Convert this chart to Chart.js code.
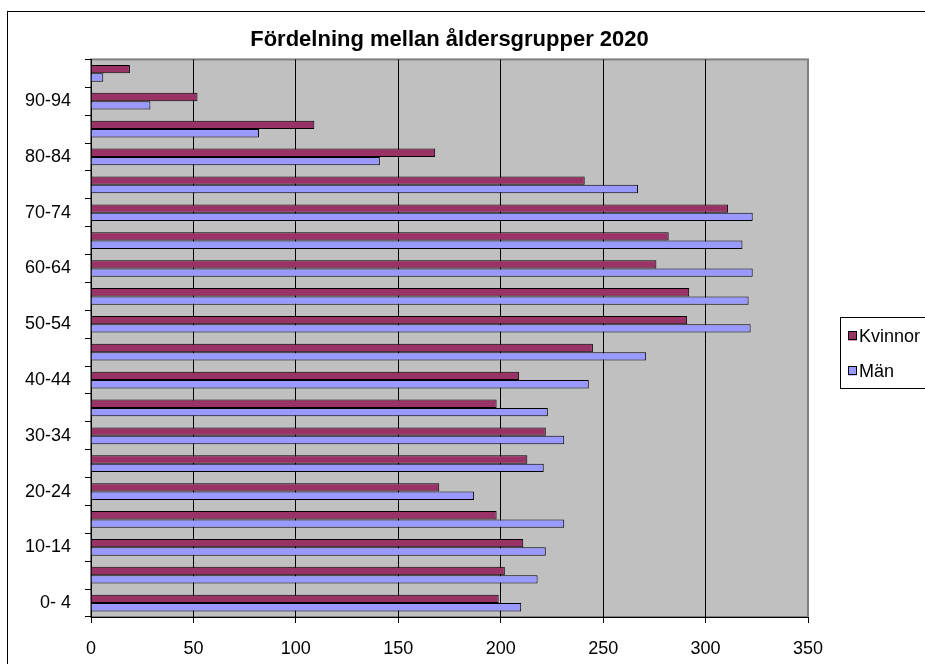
<!DOCTYPE html>
<html>
<head>
<meta charset="utf-8">
<script src="https://cdn.jsdelivr.net/npm/chart.js@4/dist/chart.umd.min.js"></script>
<style>
  html, body { margin: 0; padding: 0; background: #fff; }
  #grafica { display: block; }
</style>
</head>
<body>
<canvas id="grafica" width="925" height="664"></canvas>
<script>
const grupos = ["0- 4", "5- 9", "10-14", "15-19", "20-24", "25-29", "30-34", "35-39", "40-44", "45-49",
  "50-54", "55-59", "60-64", "65-69", "70-74", "75-79", "80-84", "85-89", "90-94", "95-"];
const kvinnor = [199, 202, 211, 198, 170, 213, 222, 198, 209, 245, 291, 292, 276, 282, 311, 241, 168, 109, 52, 19];
const man = [210, 218, 222, 231, 187, 221, 231, 223, 243, 271, 322, 321, 323, 318, 323, 267, 141, 82, 29, 6];
const ticksX = [0, 50, 100, 150, 200, 250, 300, 350];

const fuente = "'Liberation Sans', Arial, sans-serif";
const colorKvinnor = "#993366";
const colorMan = "#9999FF";

// fondo gris del area de trazado y marco exterior
const fondo = {
  id: "fondo",
  beforeDraw(chart) {
    const { ctx, chartArea: a } = chart;
    ctx.save();
    ctx.fillStyle = "#fff";
    ctx.fillRect(0, 0, chart.width, chart.height);
    ctx.strokeStyle = "#000";
    ctx.lineWidth = 1;
    ctx.strokeRect(7.5, 11.5, 960, 700);
    ctx.fillStyle = "#C0C0C0";
    ctx.fillRect(a.left, a.top, a.right - a.left, a.bottom - a.top);
    ctx.strokeStyle = "#808080";
    ctx.lineWidth = 2;
    ctx.strokeRect(a.left, a.top, a.right - a.left, a.bottom - a.top);
    ctx.restore();
  },
};

const leyenda = {
  id: "leyenda",
  afterDraw(chart) {
    const ctx = chart.ctx;
    const items = [
      { texto: "Kvinnor", color: colorKvinnor, y: 336 },
      { texto: "Män", color: colorMan, y: 371 },
    ];
    ctx.save();
    ctx.strokeStyle = "#000";
    ctx.lineWidth = 1;
    ctx.strokeRect(840.5, 317.5, 120, 71);
    ctx.font = "18px " + fuente;
    ctx.textBaseline = "middle";
    items.forEach((it) => {
      ctx.fillStyle = it.color;
      ctx.fillRect(848, it.y - 4.5, 9, 9);
      ctx.strokeRect(848.5, it.y - 4.5, 8, 8);
      ctx.fillStyle = "#000";
      ctx.fillText(it.texto, 859, it.y + 1);
    });
    ctx.restore();
  },
};

new Chart(document.getElementById("grafica"), {
  type: "bar",
  data: {
    labels: grupos,
    datasets: [
      {
        label: "Kvinnor",
        data: kvinnor,
        backgroundColor: colorKvinnor,
        borderColor: "#000",
        borderWidth: 1,
        categoryPercentage: 0.6,
        barPercentage: 1,
      },
      {
        label: "Män",
        data: man,
        backgroundColor: colorMan,
        borderColor: "#000",
        borderWidth: 1,
        categoryPercentage: 0.6,
        barPercentage: 1,
      },
    ],
  },
  options: {
    indexAxis: "y",
    responsive: false,
    animation: false,
    devicePixelRatio: 1,
    layout: { padding: { top: 12, right: 117, bottom: 0, left: 0 } },
    plugins: {
      legend: { display: false },
      tooltip: { enabled: false },
      title: {
        display: true,
        fullSize: false,
        text: "Fördelning mellan åldersgrupper 2020",
        color: "#000",
        font: { family: fuente, size: 22, weight: "bold" },
        padding: { top: 15, bottom: 6 },
      },
    },
    scales: {
      x: {
        min: 0,
        max: 350,
        afterBuildTicks(scale) {
          scale.ticks = ticksX.map((v) => ({ value: v }));
        },
        afterFit(scale) {
          scale.height = 47;
        },
        grid: {
          color: (c) => (c.tick && c.tick.value === 350 ? "#808080" : "#000"),
          tickColor: "#000",
          tickLength: 6,
        },
        border: { color: "#000", width: 1 },
        ticks: {
          color: "#000",
          padding: 15,
          font: { family: fuente, size: 18 },
        },
      },
      y: {
        reverse: true,
        afterFit(scale) {
          scale.width = 91;
        },
        grid: {
          drawOnChartArea: false,
          offset: true,
          color: "#000",
          tickLength: 6,
        },
        border: { color: "#000", width: 1 },
        ticks: {
          color: "#000",
          padding: 14,
          autoSkip: false,
          font: { family: fuente, size: 18 },
          callback: (v, i) => (i % 2 === 0 ? grupos[i] : ""),
        },
      },
    },
  },
  plugins: [fondo, leyenda],
});
</script>
</body>
</html>
